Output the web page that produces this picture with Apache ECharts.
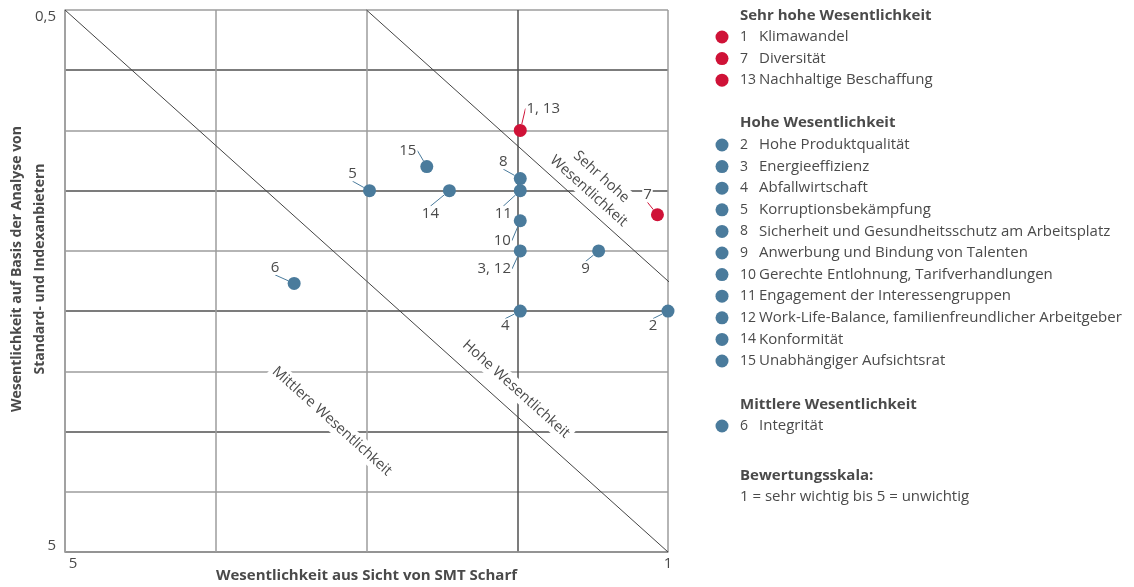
<!DOCTYPE html>
<html>
<head>
<meta charset="utf-8">
<script src="https://cdn.jsdelivr.net/npm/echarts@6/dist/echarts.min.js"></script>
<style>
html,body{margin:0;padding:0;background:#fff;}
#c{width:1134px;height:587px;}
</style>
</head>
<body>
<div id="c"></div>
<script>
// ---- data ----
const sehrHoheLabels = ['1, 13', '7'];
const sehrHoheX = [1.98, 1.07];
const sehrHoheY = [1.5, 2.2];

const hoheLabels = ['2', '3, 12', '4', '5', '8', '9', '10', '11', '14', '15'];
const hoheX = [1.0, 1.98, 1.98, 2.98, 1.98, 1.46, 1.98, 1.98, 2.45, 2.6];
const hoheY = [3.0, 2.5, 3.0, 2.0, 1.9, 2.5, 2.25, 2.0, 2.0, 1.8];

const mittlereLabels = ['6'];
const mittlereX = [3.48];
const mittlereY = [2.77];

const xTickLabels = { 5: '5', 1: '1' };
const yTickLabels = { 0.5: '0,5', 5: '5' };

const legendSehrHohe = [['1', 'Klimawandel'], ['7', 'Diversität'], ['13', 'Nachhaltige Beschaffung']];
const legendHohe = [['2', 'Hohe Produktqualität'], ['3', 'Energieeffizienz'], ['4', 'Abfallwirtschaft'],
  ['5', 'Korruptionsbekämpfung'], ['8', 'Sicherheit und Gesundheitsschutz am Arbeitsplatz'],
  ['9', 'Anwerbung und Bindung von Talenten'], ['10', 'Gerechte Entlohnung, Tarifverhandlungen'],
  ['11', 'Engagement der Interessengruppen'], ['12', 'Work-Life-Balance, familienfreundlicher Arbeitgeber'],
  ['14', 'Konformität'], ['15', 'Unabhängiger Aufsichtsrat']];
const legendMittlere = [['6', 'Integrität']];

// threshold lines (data coordinates)
const lineMittelHoch = [[5, 0.5], [1, 5]];
const lineHochSehr = [[3, 0.5], [0.98, 2.7725]];

// ---- styling / layout ----
const RED = '#cf1237';
const BLUE = '#4a7b9c';
const TXT = '#4a4a4a';
const LIGHT = '#9c9c9c';
const DARK = '#505050';
const FONT = '"Open Sans", "Noto Sans", sans-serif';
const FS = 15;

// label offsets (pixels) relative to point
const labelOffsets = {
  '1, 13': [23, -22], '7': [-10, -20], '2': [-15, 15], '3, 12': [-26, 18], '4': [-15, 15],
  '5': [-17, -17], '8': [-17, -17], '9': [-13, 18], '10': [-18, 20], '11': [-17, 23],
  '14': [-19, 23], '15': [-19, -16], '6': [-19, -16]
};

function mk(labels, xs, ys) {
  return labels.map((l, i) => ({ value: [xs[i], ys[i]], name: l }));
}

function scatterSeries(name, color, labels, xs, ys) {
  return {
    name: name, type: 'scatter', z: 5,
    symbolSize: 13,
    itemStyle: { color: color, opacity: 1 },
    data: mk(labels, xs, ys),
    label: {
      show: true, position: 'inside', formatter: p => p.name,
      color: TXT, fontFamily: FONT, fontSize: FS,
      backgroundColor: '#fff', padding: [0, 1]
    },
    labelLine: { show: true, lineStyle: { color: color, width: 1 }, smooth: false },
    labelLayout: function (p) {
      const o = labelOffsets[p.text] || [0, 0];
      return { dx: o[0], dy: o[1] };
    },
    emphasis: { disabled: true }
  };
}

const chart = echarts.init(document.getElementById('c'), null, { renderer: 'canvas' });

const option = {
  backgroundColor: '#fff',
  animation: false,
  textStyle: { fontFamily: FONT },
  grid: { left: 65, top: 10, right: 466, bottom: 35, containLabel: false, outerBoundsMode: 'none' },
  xAxis: {
    type: 'value', inverse: true, min: 1, max: 5, interval: 1,
    name: 'Wesentlichkeit aus Sicht von SMT Scharf', nameLocation: 'middle', nameGap: 24,
    nameMoveOverlap: false,
    nameTextStyle: { fontFamily: FONT, fontWeight: 'bold', fontSize: 15, color: TXT, verticalAlign: 'middle' },
    axisLine: { show: true, lineStyle: { color: LIGHT, width: 1.5 } },
    axisTick: { show: false },
    axisLabel: {
      margin: 4, color: TXT, fontSize: FS, fontFamily: FONT,
      formatter: v => xTickLabels[v] ? (v === 5 ? '{l|' + xTickLabels[v] + '}' : xTickLabels[v]) : '',
      rich: { l: { padding: [0, 0, 0, 16], fontSize: FS, color: TXT, fontFamily: FONT } }
    },
    splitLine: { show: true, lineStyle: { color: [LIGHT, DARK, LIGHT, LIGHT, LIGHT], width: 1.5 } }
  },
  yAxis: {
    type: 'value', inverse: true, min: 0.5, max: 5, interval: 0.5,
    name: 'Wesentlichkeit auf Basis der Analyse von\nStandard- und Indexanbietern',
    nameLocation: 'middle', nameGap: 36, nameRotate: 90, nameMoveOverlap: false,
    nameTextStyle: { fontFamily: FONT, fontWeight: 'bold', fontSize: 14, color: TXT, lineHeight: 23, align: 'center', verticalAlign: 'middle', padding: [0, 0, 0, 24] },
    axisLine: { show: true, lineStyle: { color: LIGHT, width: 1.5 } },
    axisTick: { show: false },
    axisLabel: {
      margin: 9, color: TXT, fontSize: FS, fontFamily: FONT,
      formatter: v => {
        if (v === 0.5) return '{t|' + yTickLabels[v] + '}';
        if (v === 5) return '{b|' + yTickLabels[v] + '}';
        return '';
      },
      rich: {
        t: { padding: [14, 0, 0, 0], fontSize: FS, color: TXT, fontFamily: FONT },
        b: { padding: [0, 0, 12, 0], fontSize: FS, color: TXT, fontFamily: FONT }
      }
    },
    splitLine: { show: true, lineStyle: { color: [LIGHT, DARK], width: 1.5 } }
  },
  series: [
    {
      type: 'line', data: lineMittelHoch, symbol: 'none', clip: false, z: 2, silent: true,
      lineStyle: { color: '#444', width: 1 }
    },
    {
      type: 'line', data: lineHochSehr, symbol: 'none', clip: false, z: 2, silent: true,
      lineStyle: { color: '#444', width: 1 }
    },
    scatterSeries('Sehr hohe Wesentlichkeit', RED, sehrHoheLabels, sehrHoheX, sehrHoheY),
    scatterSeries('Hohe Wesentlichkeit', BLUE, hoheLabels, hoheX, hoheY),
    scatterSeries('Mittlere Wesentlichkeit', BLUE, mittlereLabels, mittlereX, mittlereY)
  ]
};
chart.setOption(option);

// ---- zone labels along the threshold lines (placed in data coordinates) ----
const zoneLabels = [
  { text: 'Sehr hohe\nWesentlichkeit', at: [1.484, 1.945] },
  { text: 'Hohe Wesentlichkeit', at: [2.008, 3.648] },
  { text: 'Mittlere Wesentlichkeit', at: [3.229, 3.914] }
];
const ang = -Math.atan2(542, 603);
const graphics = zoneLabels.map(z => {
  const p = chart.convertToPixel({ gridIndex: 0 }, z.at);
  return {
    type: 'text', x: p[0], y: p[1], rotation: ang, z: 3,
    style: {
      text: z.text, fontFamily: FONT, fontSize: 14.5, fill: TXT, align: 'center', verticalAlign: 'middle',
      lineHeight: 19, backgroundColor: '#fff', padding: [0, 3]
    }
  };
});

// ---- legend (right side) ----
const LX = 740, DX = 722, NX = 759, ROW = 21.6;
function addHeading(txt, y) {
  graphics.push({ type: 'text', x: LX, y: y, style: { text: txt, fontFamily: FONT, fontSize: FS, fontWeight: 'bold', fill: TXT, verticalAlign: 'middle' } });
}
function addItems(items, color, y0) {
  items.forEach((it, i) => {
    const y = y0 + i * ROW;
    graphics.push({ type: 'circle', shape: { cx: DX, cy: y, r: 6.5 }, style: { fill: color } });
    graphics.push({ type: 'text', x: LX, y: y, style: { text: it[0], fontFamily: FONT, fontSize: 14, fill: TXT, verticalAlign: 'middle' } });
    graphics.push({ type: 'text', x: NX, y: y, style: { text: it[1], fontFamily: FONT, fontSize: FS, fill: TXT, verticalAlign: 'middle' } });
  });
}
addHeading('Sehr hohe Wesentlichkeit', 16);
addItems(legendSehrHohe, RED, 37);
addHeading('Hohe Wesentlichkeit', 123);
addItems(legendHohe, BLUE, 145);
addHeading('Mittlere Wesentlichkeit', 405);
addItems(legendMittlere, BLUE, 426);
addHeading('Bewertungsskala:', 476);
graphics.push({ type: 'text', x: LX, y: 497, style: { text: '1 = sehr wichtig bis 5 = unwichtig', fontFamily: FONT, fontSize: FS, fill: TXT, verticalAlign: 'middle' } });

chart.setOption({ graphic: graphics });
</script>
</body>
</html>
